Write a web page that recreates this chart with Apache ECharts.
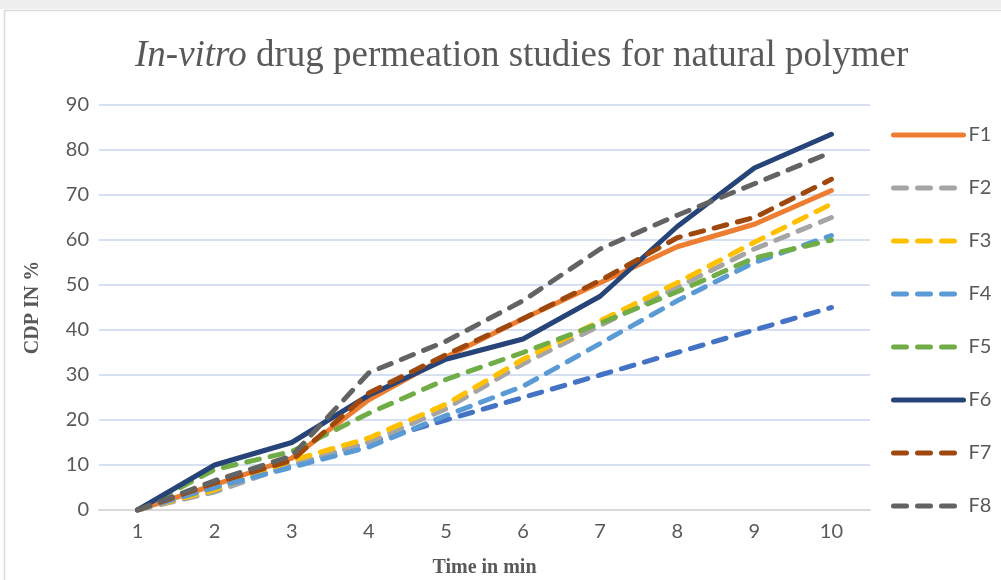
<!DOCTYPE html>
<html>
<head>
<meta charset="utf-8">
<script src="https://cdn.jsdelivr.net/npm/echarts@6/dist/echarts.min.js"></script>
<style>
  html, body { margin: 0; padding: 0; background: #ffffff; }
  #chart { width: 1001px; height: 580px; }
</style>
</head>
<body>
<div id="chart"></div>
<script>
// Sampling times (min)
const timePoints = ['1', '2', '3', '4', '5', '6', '7', '8', '9', '10'];

// Reference series (no legend entry)
const baseline = [0, 5, 10, 15, 20, 25, 30, 35, 40, 45];

// Cumulative drug permeated (%) per formulation
const f1 = [0, 5.6, 11.5, 24.5, 34, 42.5, 50.5, 58.5, 63.5, 71];
const f2 = [0, 4, 10, 15, 22.5, 32.5, 41, 49.5, 58, 65];
const f3 = [0, 4.5, 11, 16, 23.5, 33.5, 42, 50.5, 59.5, 68];
const f4 = [0, 5, 9.5, 14, 21, 27.5, 37, 46.5, 55, 61];
const f5 = [0, 9, 13, 21.5, 29, 35, 41.5, 48.5, 56, 60];
const f6 = [0, 10, 15, 25.5, 33.5, 38, 47.5, 63, 76, 83.5];
const f7 = [0, 6, 11, 26, 34.5, 42.5, 51, 60.5, 65, 73.5];
const f8 = [0, 6.5, 12, 30.5, 37.5, 46.5, 58, 65.5, 72.5, 79.5];

const formulationNames = ['F1', 'F2', 'F3', 'F4', 'F5', 'F6', 'F7', 'F8'];

const textColor = '#595959';
const sansFont = 'Lato, "Liberation Sans", sans-serif';
const serifFont = '"Liberation Serif", "DejaVu Serif", serif';
const dashPattern = [13, 11];

function lineSeries(name, data, color, dashed) {
  return {
    name: name,
    type: 'line',
    data: data,
    symbol: 'none',
    showSymbol: false,
    smooth: false,
    animation: false,
    lineStyle: {
      color: color,
      width: 5,
      type: dashed ? dashPattern : 'solid',
      cap: 'round',
      join: 'round'
    },
    itemStyle: { color: color },
    emphasis: { disabled: true }
  };
}

const chart = echarts.init(document.getElementById('chart'), null, { renderer: 'canvas' });

chart.setOption({
  backgroundColor: '#ffffff',
  animation: false,
  graphic: [
    {
      type: 'rect',
      shape: { x: 0, y: 0, width: 1001, height: 9 },
      style: { fill: '#eeeeee' },
      silent: true
    },
    {
      type: 'rect',
      shape: { x: 4.5, y: 10.5, width: 1010, height: 600 },
      style: { fill: 'none', stroke: '#d9d9d9', lineWidth: 1.5 },
      silent: true
    }
  ],
  title: {
    text: '{i|In-vitro}{n| drug permeation studies for natural polymer}',
    left: 130,
    top: 33,
    textStyle: {
      fontWeight: 'normal',
      rich: {
        i: { fontFamily: serifFont, fontStyle: 'italic', fontWeight: 'normal', fontSize: 37, color: textColor },
        n: { fontFamily: serifFont, fontWeight: 'normal', fontSize: 37, color: textColor }
      }
    }
  },
  legend: {
    orient: 'vertical',
    left: 886,
    top: 120,
    itemWidth: 70,
    itemHeight: 14,
    itemGap: 33,
    data: formulationNames,
    textStyle: { fontFamily: sansFont, fontSize: 20, color: textColor },
    itemStyle: { opacity: 0 },
    lineStyle: { width: 5, cap: 'round' }
  },
  grid: {
    left: 99,
    right: 131,
    top: 105,
    bottom: 70,
    containLabel: false,
    outerBoundsMode: 'none'
  },
  xAxis: {
    type: 'category',
    data: timePoints,
    boundaryGap: true,
    name: 'Time in min',
    nameLocation: 'middle',
    nameGap: 48,
    nameTextStyle: { fontFamily: serifFont, fontWeight: 'bold', fontSize: 20, color: textColor },
    axisLine: { lineStyle: { color: '#d9d9d9', width: 2 } },
    axisTick: { show: false },
    axisLabel: { fontFamily: sansFont, fontSize: 20, color: textColor, margin: 12 },
    splitLine: { show: false }
  },
  yAxis: {
    type: 'value',
    min: 0,
    max: 90,
    interval: 10,
    name: 'CDP IN %',
    nameLocation: 'middle',
    nameGap: 56,
    nameTextStyle: { fontFamily: serifFont, fontWeight: 'bold', fontSize: 20, color: textColor },
    axisLine: { show: false },
    axisTick: { show: false },
    axisLabel: { fontFamily: sansFont, fontSize: 20, color: textColor, margin: 10 },
    splitLine: { lineStyle: { color: '#c9d6ee', width: 1.5 } }
  },
  series: [
    lineSeries('Baseline', baseline, '#4472C4', true),
    lineSeries('F1', f1, '#ED7D31', false),
    lineSeries('F2', f2, '#A5A5A5', true),
    lineSeries('F3', f3, '#FFC000', true),
    lineSeries('F4', f4, '#5B9BD5', true),
    lineSeries('F5', f5, '#70AD47', true),
    lineSeries('F6', f6, '#264478', false),
    lineSeries('F7', f7, '#9E480E', true),
    lineSeries('F8', f8, '#636363', true)
  ]
});
</script>
</body>
</html>
